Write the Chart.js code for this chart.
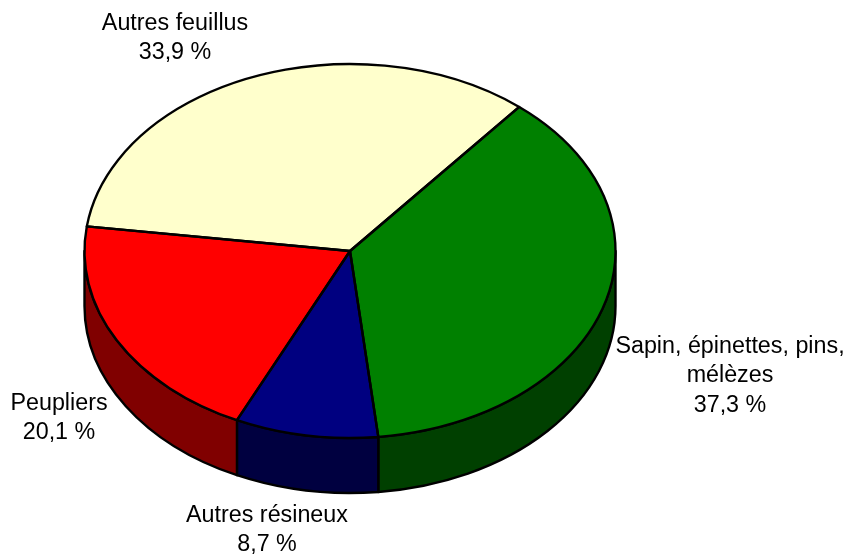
<!DOCTYPE html>
<html><head><meta charset="utf-8">
<style>html,body{margin:0;padding:0;background:#fff}#w{width:846px;height:556px;position:relative}</style>
<script src="https://cdn.jsdelivr.net/npm/chart.js@4/dist/chart.umd.js"></script>
</head><body><div id="w"><canvas id="c" width="846" height="556"></canvas></div>
<script>
const categories = ["Sapin, épinettes, pins, mélèzes", "Autres résineux", "Peupliers", "Autres feuillus"];
const shares = [37.3, 8.7, 20.1, 33.9];
const topColors = ["#008000", "#000080", "#FF0000", "#FFFFCC"];
const sideColors = ["#004000", "#000040", "#800000", "#808066"];
const labelLines = [["Sapin, épinettes, pins,", "mélèzes", "37,3 %"], ["Autres résineux", "8,7 %"], ["Peupliers", "20,1 %"], ["Autres feuillus", "33,9 %"]];
const labelAnchors = [[730, 346.5], [267, 515.5], [59, 403.5], [175, 23.5]];
const firstAngle = 39.6;

const CX = 350, CY = 251, RX = 265.5, RY = 187, DEPTH = 55, LH = 29.3;

function ell(ctx, a0, a1, dy, ccw) { ctx.ellipse(CX, CY + dy, RX, RY, 0, a0, a1, !!ccw); }
const pie3d = {
  id: 'pie3d',
  beforeDatasetsDraw(chart) {
    const ctx = chart.ctx, arcs = chart.getDatasetMeta(0).data;
    const R = arcs[0].outerRadius, ox = arcs[0].x, oy = arcs[0].y;
    ctx.save();
    ctx.lineJoin = 'round';
    ctx.lineWidth = 2.4; ctx.strokeStyle = '#000';
    // side wall: only the part of each slice on the front half
    arcs.forEach((a, i) => {
      const s = Math.max(a.startAngle, 0), e = Math.min(a.endAngle, Math.PI);
      if (e <= s) return;
      ctx.beginPath();
      ell(ctx, s, e, 0);
      ell(ctx, e, s, DEPTH, true);
      ctx.closePath();
      ctx.fillStyle = sideColors[i]; ctx.fill();
      ctx.stroke();
    });
    // top face through the library's own arc elements
    ctx.save();
    ctx.translate(CX, CY); ctx.scale(RX / R, RY / R); ctx.translate(-ox, -oy);
    arcs.forEach(a => a.draw(ctx));
    ctx.restore();
    // outlines at an even width
    arcs.forEach(a => {
      ctx.beginPath(); ctx.moveTo(CX, CY);
      ell(ctx, a.startAngle, a.endAngle, 0); ctx.closePath();
      ctx.stroke();
    });
    ctx.restore();
    return false;
  },
  afterDraw(chart) {
    const ctx = chart.ctx;
    ctx.save();
    ctx.fillStyle = '#000';
    ctx.font = '23.3px "Liberation Sans", Arial, sans-serif';
    ctx.textAlign = 'center'; ctx.textBaseline = 'middle';
    labelLines.forEach((ls, i) => ls.forEach((t, j) => ctx.fillText(t, labelAnchors[i][0], labelAnchors[i][1] + j * LH)));
    ctx.restore();
  }
};
new Chart(document.getElementById('c'), {
  type: 'pie',
  data: { labels: categories, datasets: [{ data: shares, backgroundColor: topColors, borderWidth: 0 }] },
  options: {
    responsive: false, animation: false, rotation: firstAngle,
    plugins: { legend: { display: false }, tooltip: { enabled: false } }
  },
  plugins: [pie3d]
});
</script></body></html>
